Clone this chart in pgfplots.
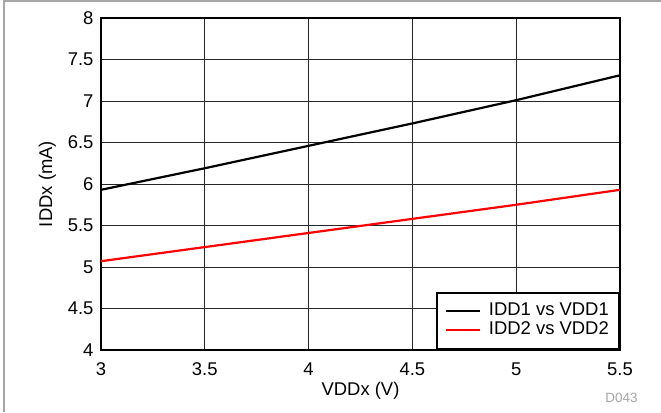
\documentclass[border=0pt]{standalone}
\usepackage{pgfplots}
\pgfplotsset{compat=1.18}
\usepackage{fontspec}
\setmainfont{Liberation Sans}
\begin{document}
\begin{tikzpicture}[x=1bp,y=1bp]
\useasboundingbox (0,0) rectangle (661,412);
\draw[gray!70, line width=1.2bp] (4,0) -- (4,411) -- (661,411);
\begin{axis}[
  at={(101bp,62bp)}, anchor=south west,
  scale only axis, width=519bp, height=332bp,
  xmin=3, xmax=5.5, ymin=4, ymax=8,
  xtick={3,3.5,...,5.5}, ytick={4,4.5,...,8},
  grid=major, grid style={black!85, line width=0.8bp},
  axis line style={line width=2.4bp},
  tick style={draw=none},
  /pgf/number format/assume math mode=true,
  /pgf/number format/fixed,
  ticklabel style={font=\fontsize{18.5}{21}\selectfont},
  xticklabel style={yshift=-9bp},
  yticklabel style={xshift=-4bp},
  label style={font=\fontsize{18.5}{21}\selectfont},
  xlabel={VDDx (V)}, ylabel={IDDx (mA)},
  xlabel style={yshift=0bp},
  ylabel style={yshift=5bp},
  legend style={at={(1,0)}, anchor=south east, draw=black, line width=2.4bp,
    font=\fontsize{18.5}{21}\selectfont, inner xsep=8bp, inner ysep=9bp, row sep=0pt,
    nodes={inner ysep=1bp, text height=13bp, text depth=4bp},
    /tikz/every odd column/.append style={column sep=6bp}},
  legend cell align=left,
  legend image code/.code={\draw[#1, line width=2.2bp] (0bp,0bp) -- (34bp,0bp);},
]
\addplot[black, line width=2.2bp] coordinates {(3,5.93) (3.5,6.19) (4,6.46) (4.5,6.73) (5,7.01) (5.5,7.31)};
\addlegendentry{IDD1 vs VDD1}
\addplot[red, line width=2.2bp] coordinates {(3,5.07) (3.5,5.24) (4,5.41) (4.5,5.58) (5,5.75) (5.5,5.93)};
\addlegendentry{IDD2 vs VDD2}
\end{axis}
\node[anchor=base east, text=gray!70, font=\fontsize{13.5}{15}\selectfont] at (641,10) {D043};
\end{tikzpicture}
\end{document}
